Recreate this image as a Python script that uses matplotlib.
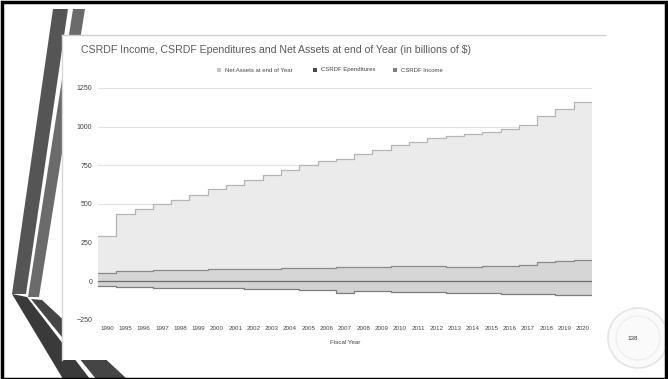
import matplotlib.pyplot as plt
import numpy as np
from matplotlib.patches import Polygon, Rectangle, Ellipse

plt.rcParams['font.family'] = ['Liberation Sans', 'DejaVu Sans']

years = ["1990"] + [str(y) for y in range(1995, 2021)]
net_assets = [291, 437, 467, 499, 529, 561, 595, 625, 657, 687, 719, 749, 781,
              794, 824, 850, 880, 901, 925, 937, 952, 967, 985, 1012, 1072, 1115, 1158]
income = [55, 68, 70, 72, 74, 76, 77, 79, 81, 79, 84, 86, 88, 90, 91, 93, 96,
          96, 96, 94, 95, 98, 100, 107, 125, 130, 135]
expenditures = [-28, -36, -38, -40, -41, -43, -45, -46, -48, -50, -52, -55, -57,
                -78, -62, -65, -67, -69, -72, -74, -76, -78, -80, -82, -84, -87, -90]
series_names = ["Net Assets at end of Year", "CSRDF Ependitures", "CSRDF Income"]
legend_colors = ["#c4c4c4", "#4a4a4a", "#7f7f7f"]

W, H = 668, 379
fig = plt.figure(figsize=(W / 100, H / 100), dpi=100, facecolor="white")


def px(x, y):
    return (x / W, 1 - y / H)


def poly(points, color, z):
    fig.patches.append(Polygon([px(*p) for p in points], closed=True,
                               transform=fig.transFigure, facecolor=color,
                               edgecolor="none", zorder=z))


# slide decoration on the left
poly([(53, 9), (68, 9), (26, 294), (12, 294)], "#555555", 1)
poly([(73, 9), (85, 9), (39, 297), (28, 297)], "#6b6b6b", 1)
poly([(12, 294), (27, 297), (90, 379), (63, 379)], "#3a3a3a", 1)
poly([(31, 299), (42, 300), (127, 379), (96, 379)], "#454545", 1)

# screenshot of the chart
fig.patches.append(Rectangle(px(62, 360), 543 / W, 325 / H, transform=fig.transFigure,
                             facecolor="white", edgecolor="none", zorder=2))
fig.lines.append(plt.Line2D([62 / W, 605 / W], [1 - 35 / H] * 2, transform=fig.transFigure,
                            color="#d0d0d0", lw=1, zorder=3))
fig.lines.append(plt.Line2D([62 / W] * 2, [1 - 35 / H, 1 - 360 / H], transform=fig.transFigure,
                            color="#d8d8d8", lw=1, zorder=3))

# slide border
fig.patches.append(Rectangle((2 / W, 0), 664 / W, (H - 2) / H, transform=fig.transFigure,
                             facecolor="none", edgecolor="black", lw=2.5, zorder=10))

# seal and page number
fig.patches.append(Ellipse(px(638, 338), 60 / W, 60 / H, transform=fig.transFigure,
                           facecolor="#fafafa", edgecolor="#e4e4e4", lw=1.2, zorder=2))
fig.patches.append(Ellipse(px(638, 338), 44 / W, 44 / H, transform=fig.transFigure,
                           facecolor="none", edgecolor="#ececec", lw=0.8, zorder=2))
fig.text(633 / W, 1 - 339 / H, "138", fontsize=4.5, color="#333333",
         ha="center", va="center", zorder=4)

ax = fig.add_axes([98 / W, 1 - 320 / H, 494 / W, 232 / H])
ax.set_zorder(5)
ax.patch.set_alpha(0)

n = len(years)
edges = np.arange(n + 1) - 0.5


def stepped(vals, fill, line):
    v = np.append(vals, vals[-1])
    ax.fill_between(edges, 0, v, step="post", color=fill, lw=0)
    ax.step(edges, v, where="post", color=line, lw=0.9)


stepped(net_assets, "#ebebeb", "#b5b5b5")
stepped(expenditures, "#d3d3d3", "#7d7d7d")
stepped(income, "#d6d6d6", "#8a8a8a")
ax.axhline(0, color="#6e6e6e", lw=0.9)

ax.set_xlim(-0.5, n - 0.5)
ax.set_ylim(-250, 1250)
ax.set_yticks([-250, 0, 250, 500, 750, 1000, 1250])
ax.set_xticks(np.arange(n))
ax.set_xticklabels(years)
ax.grid(axis="y", color="#e2e2e2", lw=0.8)
ax.set_axisbelow(True)
for s in ax.spines.values():
    s.set_visible(False)
ax.tick_params(length=0, colors="#444444")
ax.tick_params(axis="y", labelsize=5, pad=4)
ax.tick_params(axis="x", labelsize=4.5, pad=4)
ax.set_xlabel("Fiscal Year", fontsize=4.5, color="#444444", labelpad=7)

fig.text(81 / W, 1 - 50 / H,
         "CSRDF Income, CSRDF Ependitures and Net Assets at end of Year (in billions of $)",
         fontsize=7.6, color="#5a5a5a", va="center", ha="left")

# legend
leg_x = [217, 313, 393]
for x0, name, c in zip(leg_x, series_names, legend_colors):
    fig.patches.append(Rectangle(px(x0, 72), 4 / W, 4 / H, transform=fig.transFigure,
                                 facecolor=c, edgecolor="none", zorder=4))
    fig.text((x0 + 8) / W, 1 - 70 / H, name, fontsize=4.3, color="#444444",
             va="center", ha="left", zorder=4)

fig.savefig("out.png", dpi=100)
